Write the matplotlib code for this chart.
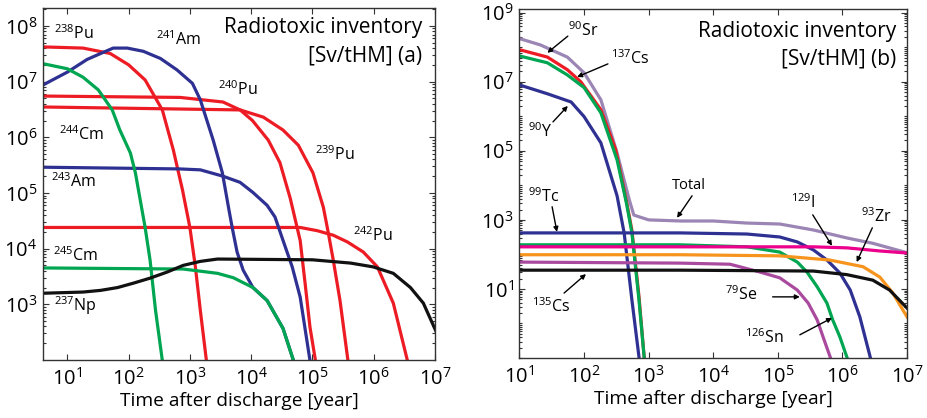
import numpy as np
import matplotlib
matplotlib.use("Agg")
import matplotlib.pyplot as plt
from matplotlib.ticker import FixedLocator, LogLocator, NullFormatter

plt.rcParams['font.family'] = ['Open Sans', 'DejaVu Sans']
plt.rcParams['mathtext.default'] = 'regular'

# ---- panel (a): actinides ----
pu238_t = [4, 18, 50, 100, 186, 355, 537, 759, 1000, 1230, 1480, 1860]
pu238_v = [4.2e7, 4.0e7, 3.2e7, 2.0e7, 1.07e7, 3.1e6, 5.9e5, 1.12e5, 2.4e4, 4.7e3, 780, 98]

pu240_t = [4, 690, 3470, 6600, 10500, 19000, 29500, 43600, 56200, 63100, 75900, 91200, 112000]
pu240_v = [5.5e6, 5.2e6, 4.3e6, 3.1e6, 2.0e6, 8.9e5, 3.5e5, 7.9e4, 2.4e4, 1.4e4, 2.4e3, 390, 98]

pu239_t = [4, 6600, 15800, 33100, 58900, 102000, 151000, 182000, 219000, 282000, 380000]
pu239_v = [3.5e6, 3.1e6, 2.3e6, 1.35e6, 7.2e5, 2.3e5, 5.5e4, 1.9e4, 6.2e3, 1.17e3, 98]

pu242_t = [4, 63100, 120000, 219000, 372000, 676000, 1.15e6, 2.09e6, 3.55e6]
pu242_v = [2.4e4, 2.4e4, 2.1e4, 1.74e4, 1.32e4, 8.7e3, 4.7e3, 1.05e3, 98]

am241_t = [4, 10, 21, 35, 56, 95, 174, 331, 617, 1100, 1480, 2400, 3390, 4270, 4900,
           5890, 7410, 10700, 18200, 33100, 49000]
am241_v = [8.7e6, 1.48e7, 2.5e7, 3.2e7, 4.0e7, 4.0e7, 3.5e7, 2.6e7, 1.62e7, 9.3e6, 4.7e6,
           8.9e5, 2.3e5, 5.5e4, 2.4e4, 8.7e3, 4.1e3, 2.0e3, 1.17e3, 370, 98]

am243_t = [4, 690, 1480, 3470, 6600, 10700, 18200, 24500, 33100, 46800, 63100, 91200]
am243_v = [2.9e5, 2.7e5, 2.6e5, 2.0e5, 1.55e5, 1.02e5, 6.0e4, 3.7e4, 1.41e4, 4.7e3, 1.35e3, 98]

cm244_t = [4, 10, 18, 32, 54, 72, 107, 129, 155, 186, 224, 275, 355]
cm244_v = [2.1e7, 1.7e7, 1.2e7, 7.1e6, 3.1e6, 1.35e6, 5.2e5, 2.3e5, 7.4e4, 2.4e4, 6.2e3, 780, 98]

cm245_t = [4, 780, 2820, 5130, 10700, 18200, 33100, 49000]
cm245_v = [4.5e3, 4.3e3, 3.6e3, 3.0e3, 2.0e3, 1.17e3, 370, 98]

np237_t = [4, 18, 35, 66, 120, 224, 427, 776, 1480, 2820, 1e5, 4.2e5, 9.8e5, 2.09e6,
           3.98e6, 6.46e6, 1.05e7]
np237_v = [1.58e3, 1.66e3, 1.78e3, 2.0e3, 2.4e3, 2.95e3, 3.8e3, 5.0e3, 5.9e3, 6.5e3,
           6.3e3, 5.5e3, 4.7e3, 3.6e3, 2.0e3, 1.05e3, 320]

# ---- panel (b): fission products ----
total_t = [10, 21, 55, 100, 182, 324, 501, 589, 1000, 3090, 1e4, 33100, 107000, 355000,
           1.17e6, 2.95e6, 1e7]
total_v = [1.78e8, 1.17e8, 5.2e7, 1.82e7, 3.0e6, 8.7e4, 3.8e3, 1.38e3, 1.0e3, 930, 930,
           810, 760, 510, 300, 210, 112]

sr90_t = [10, 27, 55, 89, 182, 309, 457, 550, 708, 851]
sr90_v = [8.5e7, 5.2e7, 2.24e7, 1.0e7, 1.55e6, 1.07e5, 3.2e3, 500, 6.0, 0.107]

cs137_t = [10, 27, 55, 100, 182, 324, 457, 550, 708, 851]
cs137_v = [5.6e7, 3.55e7, 1.58e7, 6.8e6, 1.26e6, 5.5e4, 2.8e3, 420, 4.8, 0.107]

y90_t = [10, 27, 63, 100, 182, 324, 417, 550, 708]
y90_v = [8.1e6, 4.5e6, 2.6e6, 9.8e5, 1.7e5, 5.0e3, 420, 4.8, 0.107]

tc99_t = [10, 3090, 33100, 107000, 200000, 355000, 575000, 912000, 1.32e6, 1.86e6, 2.69e6]
tc99_v = [420, 420, 390, 320, 230, 135, 69, 29, 9.3, 1.55, 0.107]

sn126_t = [10, 3090, 33100, 107000, 200000, 282000, 407000, 575000, 708000, 912000, 1.17e6]
sn126_v = [190, 190, 166, 117, 60, 31, 11.5, 3.9, 1.26, 0.41, 0.107]

i129_t = [10, 355000, 1.17e6, 3.8e6, 1e7]
i129_v = [166, 166, 155, 126, 110]

zr93_t = [10, 3090, 107000, 631000, 2.09e6, 3.8e6, 6.03e6, 1e7]
zr93_v = [98, 98, 91, 69, 44, 22, 7.6, 1.55]

se79_t = [10, 3090, 18200, 52500, 107000, 200000, 295000, 407000, 501000, 646000]
se79_v = [60, 56, 52, 31, 21, 9.3, 3.9, 1.26, 0.41, 0.107]

cs135_t = [10, 3090, 355000, 1.17e6, 2.95e6, 5.37e6, 1e7]
cs135_v = [35, 35, 33, 26, 18, 9.3, 2.8]

RED = '#ED1C24'
BLUE = '#2E3192'
GREEN = '#00A651'
BLACK = '#111111'
PURPLE = '#9B85B5'
MAGENTA = '#AA4A9F'
PINK = '#EC008C'
ORANGE = '#F7941D'
LW = 2.3

fig = plt.figure(figsize=(9.28, 4.18), dpi=100)
ax1 = fig.add_axes([0.0463, 0.1388, 0.4224, 0.8421])
ax2 = fig.add_axes([0.5598, 0.1435, 0.4176, 0.8349])


def style_axis(ax):
    ax.set_xscale('log')
    ax.set_yscale('log')
    ax.tick_params(which='both', direction='in', top=True, right=True,
                   labelsize=14.5, width=0.8, color='#333333')
    ax.tick_params(which='major', length=4)
    ax.tick_params(which='minor', length=2)
    ax.tick_params(axis='x', pad=6)
    ax.tick_params(axis='y', pad=4)
    for s in ax.spines.values():
        s.set_linewidth(1.0)
        s.set_color('#333333')
    ax.xaxis.set_major_locator(FixedLocator([1e1, 1e2, 1e3, 1e4, 1e5, 1e6, 1e7]))
    ax.xaxis.set_minor_locator(LogLocator(base=10, subs=np.arange(2, 10)))
    ax.xaxis.set_minor_formatter(NullFormatter())
    ax.yaxis.set_minor_formatter(NullFormatter())
    ax.set_xlabel('Time after discharge [year]', fontsize=13.8, labelpad=1)


# panel (a)
ax1.plot(pu238_t, pu238_v, color=RED, lw=LW)
ax1.plot(pu240_t, pu240_v, color=RED, lw=LW)
ax1.plot(pu239_t, pu239_v, color=RED, lw=LW)
ax1.plot(pu242_t, pu242_v, color=RED, lw=LW)
ax1.plot(am241_t, am241_v, color=BLUE, lw=LW)
ax1.plot(am243_t, am243_v, color=BLUE, lw=LW)
ax1.plot(cm244_t, cm244_v, color=GREEN, lw=LW)
ax1.plot(cm245_t, cm245_v, color=GREEN, lw=LW)
ax1.plot(np237_t, np237_v, color=BLACK, lw=LW)
style_axis(ax1)
ax1.set_xlim(4, 1e7)
ax1.set_ylim(1e2, 2.1e8)
ax1.yaxis.set_major_locator(FixedLocator([1e3, 1e4, 1e5, 1e6, 1e7, 1e8]))
ax1.yaxis.set_minor_locator(LogLocator(base=10, subs=np.arange(2, 10)))

lab_kw = dict(fontsize=11.5, ha='center', va='center')
ax1.text(13, 7.4e7, '$^{238}$Pu', **lab_kw)
ax1.text(650, 5.6e7, '$^{241}$Am', **lab_kw)
ax1.text(6200, 7.1e6, '$^{240}$Pu', **lab_kw)
ax1.text(17, 1.1e6, '$^{244}$Cm', **lab_kw)
ax1.text(230000, 4.8e5, '$^{239}$Pu', **lab_kw)
ax1.text(12.6, 1.6e5, '$^{243}$Am', **lab_kw)
ax1.text(980000, 1.74e4, '$^{242}$Pu', **lab_kw)
ax1.text(13.5, 7.6e3, '$^{245}$Cm', **lab_kw)
ax1.text(13.5, 950, '$^{237}$Np', **lab_kw)
ax1.text(0.967, 0.929, 'Radiotoxic inventory', transform=ax1.transAxes,
         ha='right', va='baseline', fontsize=15)
ax1.text(0.967, 0.847, '[Sv/tHM] (a)', transform=ax1.transAxes,
         ha='right', va='baseline', fontsize=15)

# panel (b)
ax2.plot(total_t, total_v, color=PURPLE, lw=LW)
ax2.plot(sr90_t, sr90_v, color=RED, lw=LW)
ax2.plot(cs137_t, cs137_v, color=GREEN, lw=LW)
ax2.plot(y90_t, y90_v, color=BLUE, lw=LW)
ax2.plot(tc99_t, tc99_v, color=BLUE, lw=LW)
ax2.plot(sn126_t, sn126_v, color=GREEN, lw=LW)
ax2.plot(i129_t, i129_v, color=PINK, lw=LW)
ax2.plot(zr93_t, zr93_v, color=ORANGE, lw=LW)
ax2.plot(se79_t, se79_v, color=MAGENTA, lw=LW)
ax2.plot(cs135_t, cs135_v, color=BLACK, lw=LW)
style_axis(ax2)
ax2.set_xlim(10, 1e7)
ax2.set_ylim(0.1, 1.28e9)
ax2.yaxis.set_major_locator(FixedLocator([1e1, 1e3, 1e5, 1e7, 1e9]))
ax2.yaxis.set_minor_locator(LogLocator(base=10, subs=np.arange(1, 10), numticks=30))

arrow = dict(arrowstyle='-|>', color='black', lw=1.0, mutation_scale=7,
             shrinkA=0, shrinkB=0)
notes = [
    ('$^{90}$Sr', (96, 3.0e8), (56, 2.1e8), (27, 6.9e7)),
    ('$^{137}$Cs', (513, 4.7e7), (234, 3.3e7), (78, 1.38e7)),
    ('$^{90}$Y', (21, 3.5e5), (33, 6.9e5), (56, 2.0e6)),
    ('$^{99}$Tc', (24, 4.7e3), (32, 2.4e3), (38, 450)),
    ('Total', (4200, 9.8e3), (4700, 5.0e3), (2750, 1150)),
    ('$^{129}$I', (245000, 3.1e3), (347000, 1.4e3), (690000, 178)),
    ('$^{93}$Zr', (3.4e6, 1.23e3), (2.9e6, 590), (1.66e6, 60)),
    ('$^{79}$Se', (27500, 6.8), (83000, 5.9), (219000, 5.9)),
    ('$^{126}$Sn', (62000, 0.38), (219000, 0.47), (690000, 1.45)),
    ('$^{135}$Cs', (31, 3.0), (49, 7.6), (107, 27)),
]
for txt, tpos, tail, head in notes:
    size = 10.5 if txt == 'Total' else 11.5
    ax2.text(tpos[0], tpos[1], txt, fontsize=size, ha='center', va='center')
    ax2.annotate('', xy=head, xytext=tail, arrowprops=arrow)
ax2.text(0.972, 0.920, 'Radiotoxic inventory', transform=ax2.transAxes,
         ha='right', va='baseline', fontsize=15)
ax2.text(0.972, 0.840, '[Sv/tHM] (b)', transform=ax2.transAxes,
         ha='right', va='baseline', fontsize=15)

fig.savefig('out.png', dpi=100)
